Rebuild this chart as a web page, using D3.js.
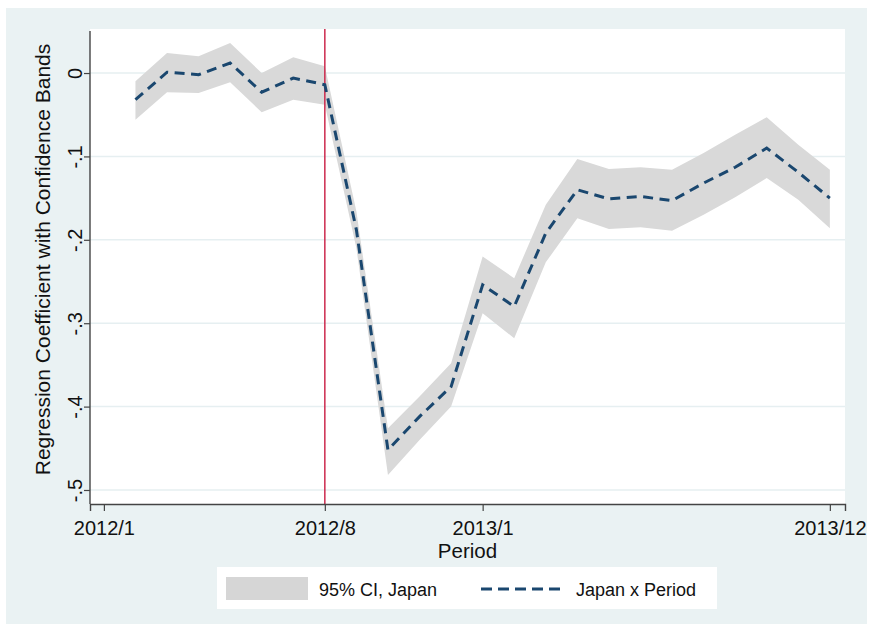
<!DOCTYPE html>
<html>
<head>
<meta charset="utf-8">
<script src="https://cdn.jsdelivr.net/npm/d3@7"></script>
<style>
  body { margin: 0; background: #fff; }
  text { font-family: Helvetica, Arial, "Liberation Sans", sans-serif; fill: #111; }
</style>
</head>
<body>
<div id="chart"></div>
<script>
const width = 869
const height = 629
const plot = { left: 90, right: 845, top: 29, bottom: 504 }

// month index, 0 = 2012/1
const months = [1, 2, 3, 4, 5, 6, 7, 8, 9, 10, 11, 12, 13, 14, 15, 16, 17, 18, 19, 20, 21, 22, 23]
const coef = [-0.032, 0.001, -0.002, 0.012, -0.023, -0.006, -0.014, -0.188, -0.452, -0.412, -0.376, -0.254,
    -0.280, -0.192, -0.140, -0.151, -0.148, -0.153, -0.132, -0.113, -0.090, -0.119, -0.150]
const upper = [-0.010, 0.024, 0.020, 0.036, 0.000, 0.019, 0.008, -0.166, -0.426, -0.388, -0.348, -0.220,
    -0.246, -0.158, -0.103, -0.115, -0.113, -0.116, -0.096, -0.074, -0.053, -0.086, -0.116]
const lower = [-0.056, -0.023, -0.024, -0.011, -0.047, -0.032, -0.038, -0.210, -0.482, -0.440, -0.400, -0.288,
    -0.318, -0.227, -0.174, -0.187, -0.185, -0.189, -0.170, -0.149, -0.126, -0.152, -0.186]
const xTicks = [0, 7, 12, 23]
const xTickLabels = ["2012/1", "2012/8", "2013/1", "2013/12"]
const yTicks = [0, -0.1, -0.2, -0.3, -0.4, -0.5]
const yTickLabels = ["0", "-.1", "-.2", "-.3", "-.4", "-.5"]
const eventMonth = 7

const data = months.map((m, i) => ({ m: m, c: coef[i], lo: lower[i], hi: upper[i] }))

let svg = d3.select("#chart")
    .append("svg")
    .attr("width", width)
    .attr("height", height)

// outer graph region
svg.append("rect")
    .attr("x", 6).attr("y", 8)
    .attr("width", 861).attr("height", 616)
    .style("fill", "#eaf2f3")

const x = d3.scaleLinear()
    .domain([-0.44, 23.48])
    .range([plot.left, plot.right])

const y = d3.scaleLinear()
    .domain([-0.5168, 0.0528])
    .range([plot.bottom, plot.top])

// plot region
svg.append("rect")
    .attr("x", plot.left).attr("y", plot.top)
    .attr("width", plot.right - plot.left)
    .attr("height", plot.bottom - plot.top)
    .style("fill", "#fff")

// gridlines
svg.append("g")
    .selectAll("line")
    .data(yTicks)
    .join("line")
    .attr("x1", plot.left).attr("x2", plot.right)
    .attr("y1", d => y(d)).attr("y2", d => y(d))
    .style("stroke", "#e6eff1")
    .style("stroke-width", 1.5)

// confidence band
const area = d3.area()
    .x(d => x(d.m))
    .y0(d => y(d.lo))
    .y1(d => y(d.hi))

svg.append("path")
    .datum(data)
    .attr("d", area)
    .style("fill", "#d9d9d9")

// event line
svg.append("line")
    .attr("x1", x(eventMonth)).attr("x2", x(eventMonth))
    .attr("y1", plot.top).attr("y2", plot.bottom)
    .style("stroke", "#cc2a4e")
    .style("stroke-width", 1.5)

// coefficient line
const line = d3.line()
    .x(d => x(d.m))
    .y(d => y(d.c))

svg.append("path")
    .datum(data)
    .attr("d", line)
    .style("fill", "none")
    .style("stroke", "#1a476f")
    .style("stroke-width", 3)
    .style("stroke-dasharray", "10,6.5")

// axes
const xAxis = svg.append("g")
    .attr("transform", `translate(0,${plot.bottom})`)
    .call(d3.axisBottom(x)
        .tickValues(xTicks)
        .tickFormat((d, i) => xTickLabels[i])
        .tickSizeOuter(0)
        .tickSize(7))
xAxis.select(".domain").style("stroke", "#444").style("stroke-width", 1.4)
xAxis.selectAll(".tick line").style("stroke", "#444").style("stroke-width", 1.2)
xAxis.selectAll(".tick text")
    .attr("y", 31).attr("dy", 0)
    .style("font-size", "20px")
    .style("font-family", "Helvetica, Arial, 'Liberation Sans', sans-serif")
    .style("fill", "#111")

const yAxis = svg.append("g")
    .attr("transform", `translate(${plot.left},0)`)
    .call(d3.axisLeft(y)
        .tickValues(yTicks)
        .tickFormat((d, i) => yTickLabels[i])
        .tickSizeOuter(0)
        .tickSize(6))
yAxis.select(".domain")
    .attr("d", `M0,${plot.top + 2}V${plot.bottom}`)
    .style("stroke", "#444").style("stroke-width", 1.4)
yAxis.selectAll(".tick line").style("stroke", "#444").style("stroke-width", 1.2)
yAxis.selectAll(".tick text")
    .attr("x", null).attr("dy", 0)
    .attr("text-anchor", "middle")
    .attr("transform", "translate(-8,0) rotate(-90)")
    .style("font-size", "20px")
    .style("font-family", "Helvetica, Arial, 'Liberation Sans', sans-serif")
    .style("fill", "#111")

// axis titles
svg.append("text")
    .attr("x", (plot.left + plot.right) / 2)
    .attr("y", 558)
    .attr("text-anchor", "middle")
    .style("font-size", "20.5px")
    .text("Period")

svg.append("text")
    .attr("transform", `translate(50,${(plot.top + plot.bottom) / 2 - 7}) rotate(-90)`)
    .attr("text-anchor", "middle")
    .style("font-size", "21px")
    .text("Regression Coefficient with Confidence Bands")

// legend
const legend = svg.append("g")
legend.append("rect")
    .attr("x", 217).attr("y", 567)
    .attr("width", 500).attr("height", 42)
    .style("fill", "#fff")
legend.append("rect")
    .attr("x", 226).attr("y", 577)
    .attr("width", 82).attr("height", 23)
    .style("fill", "#d6d6d6")
legend.append("text")
    .attr("x", 319).attr("y", 596)
    .style("font-size", "18px")
    .text("95% CI, Japan")
legend.append("line")
    .attr("x1", 481).attr("x2", 564)
    .attr("y1", 589).attr("y2", 589)
    .style("stroke", "#1a476f")
    .style("stroke-width", 3)
    .style("stroke-dasharray", "11,6")
legend.append("text")
    .attr("x", 576).attr("y", 596)
    .style("font-size", "18px")
    .text("Japan x Period")
</script>
</body>
</html>
